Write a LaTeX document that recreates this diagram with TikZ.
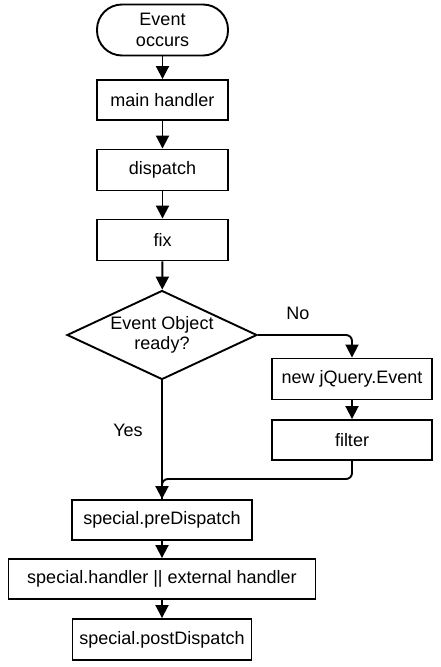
\documentclass[tikz,border=0pt]{standalone}
\usepackage{fontspec}
\setmainfont{Liberation Sans}
\usetikzlibrary{shapes.geometric,arrows.meta}
\begin{document}
\begin{tikzpicture}[x=1pt,y=-1pt,
  font=\fontsize{18}{20.5}\selectfont,
  every node/.style={inner sep=0pt},
  box/.style={draw, line width=1.9pt, rectangle, align=center},
  term/.style={draw, line width=1.9pt, rectangle, rounded corners=25pt, align=center, minimum width=131pt, minimum height=51pt},
  dec/.style={draw, line width=1.9pt, diamond, align=center, minimum width=190pt, minimum height=89pt, aspect=2.13},
  arr/.style={line width=1.9pt, -{Triangle[width=13pt,length=13pt]}},
  conn/.style={line width=1.9pt}]
\useasboundingbox (0,0) rectangle (440,667);
\node[term] (start) at (162.5,30) {Event\\occurs};
\node[box, minimum width=131pt, minimum height=40pt] (main) at (162.5,100) {main handler};
\node[box, minimum width=131pt, minimum height=41pt] (disp) at (162.5,170) {dispatch};
\node[box, minimum width=131pt, minimum height=41pt] (fix) at (162.5,240) {fix};
\node[dec] (dec) at (162,335) {Event Object\\ready?};
\node[box, minimum width=160pt, minimum height=41pt] (newev) at (352,379) {new jQuery.Event};
\node[box, minimum width=160pt, minimum height=40pt] (filter) at (352,440) {filter};
\node[box, minimum width=180pt, minimum height=40pt] (pre) at (162,520) {special.preDispatch};
\node[box, minimum width=307pt, minimum height=40pt] (handler) at (162,579) {special.handler || external handler};
\node[box, minimum width=179pt, minimum height=41pt] (post) at (162,639.5) {special.postDispatch};
\node (no) at (298,313) {No};
\node (yes) at (128,430) {Yes};
\coordinate (join) at (162,479);
\draw[arr] (start) -- (main);
\draw[arr] (main) -- (disp);
\draw[arr] (disp) -- (fix);
\draw[arr] (fix) -- (dec);
\draw[arr, rounded corners=6pt] (dec.east) -| (newev.north);
\draw[arr] (newev) -- (filter);
\draw[conn, rounded corners=6pt] (filter.south) |- (join) -- (pre.north);
\draw[arr] (dec.south) -- (pre.north);
\draw[arr] (pre) -- (handler);
\draw[arr] (handler) -- (post);
\end{tikzpicture}
\end{document}
